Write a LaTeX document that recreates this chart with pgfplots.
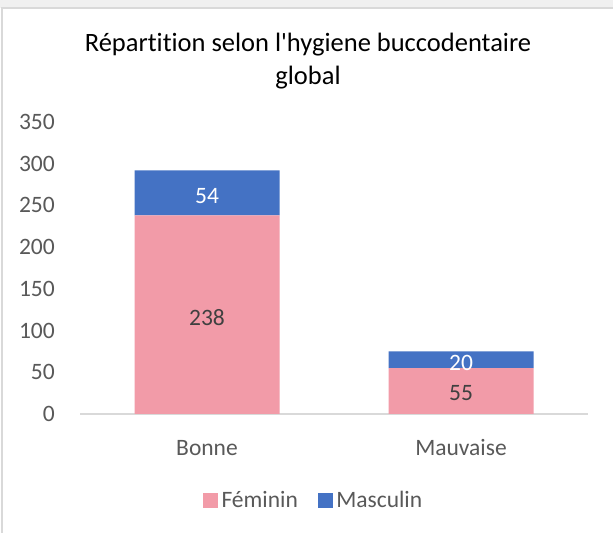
\documentclass[border=0pt]{standalone}
\usepackage{pgfplots}
\pgfplotsset{compat=1.18}
\usepackage{fontspec}
\setmainfont{Carlito}[Ligatures={TeXOff,CommonOff}]
\definecolor{pinkc}{HTML}{F29BA8}
\definecolor{bluec}{HTML}{4472C4}
\definecolor{txt}{HTML}{595959}
\definecolor{lab}{HTML}{404040}
\definecolor{axc}{HTML}{D9D9D9}
\pgfplotsset{
  commonaxis/.style={
    at={(80bp,119bp)}, anchor=south west,
    scale only axis, width=508bp, height=292bp,
    xmin=-0.5, xmax=1.5, ymin=0, ymax=350,
  },
}
\begin{document}
\begin{tikzpicture}
\useasboundingbox (0bp,0bp) rectangle (613bp,533bp);
\fill[white] (0bp,0bp) rectangle (613bp,533bp);
\fill[black!6] (0bp,525bp) rectangle (613bp,533bp);
\draw[axc, line width=1.5bp] (2bp,0bp) -- (2bp,525bp) -- (613bp,525bp);
\node[anchor=base, font=\fontsize{26.5bp}{32bp}\selectfont, text=black, inner sep=0pt] at (308bp,481bp) {Répartition selon l'hygiene buccodentaire};
\node[anchor=base, font=\fontsize{26.5bp}{32bp}\selectfont, text=black, inner sep=0pt] at (308bp,448bp) {global};
\begin{axis}[
  commonaxis,
  ybar stacked, bar width=145bp,
  xtick={0,1}, xticklabels={Bonne,Mauvaise},
  ytick={0,50,...,350},
  axis x line=bottom, axis y line=left,
  x axis line style={axc, line width=1.5bp, -},
  y axis line style={draw=none},
  major tick length=0pt,
  tick label style={font=\fontsize{23.5bp}{28bp}\selectfont, text=txt},
  yticklabel style={anchor=east, inner sep=0pt, xshift=-25bp},
  xticklabel style={anchor=base, inner sep=0pt, yshift=-41bp},
  /pgf/number format/assume math mode=true,
  legend style={at={(0.46,-0.2935)}, anchor=center, draw=none, fill=none, legend columns=-1, font=\fontsize{23.5bp}{28bp}\selectfont, text=txt, /tikz/every odd column/.append style={column sep=2bp}, /tikz/every even column/.append style={column sep=18bp}},
]
\addlegendimage{legend image code/.code={\fill[pinkc] (0bp,-7bp) rectangle (14bp,7bp);}}
\addlegendimage{legend image code/.code={\fill[bluec] (0bp,-7bp) rectangle (14bp,7bp);}}
\addplot[fill=pinkc, draw=none] coordinates {(0,238) (1,55)};
\addplot[fill=bluec, draw=none] coordinates {(0,54) (1,20)};
\legend{Féminin, Masculin}
\end{axis}
\begin{axis}[
  commonaxis, hide axis,
  nodes near coords, point meta=explicit symbolic,
  nodes near coords style={anchor=center, inner sep=0pt, font=\fontsize{23.5bp}{28bp}\selectfont},
]
\addplot[only marks, mark=none, nodes near coords style={text=lab}] coordinates {(0,115.3) [238] (1,25.4) [55]};
\addplot[only marks, mark=none, nodes near coords style={text=white}] coordinates {(0,261.3) [54] (1,61.7) [20]};
\end{axis}
\end{tikzpicture}
\end{document}
